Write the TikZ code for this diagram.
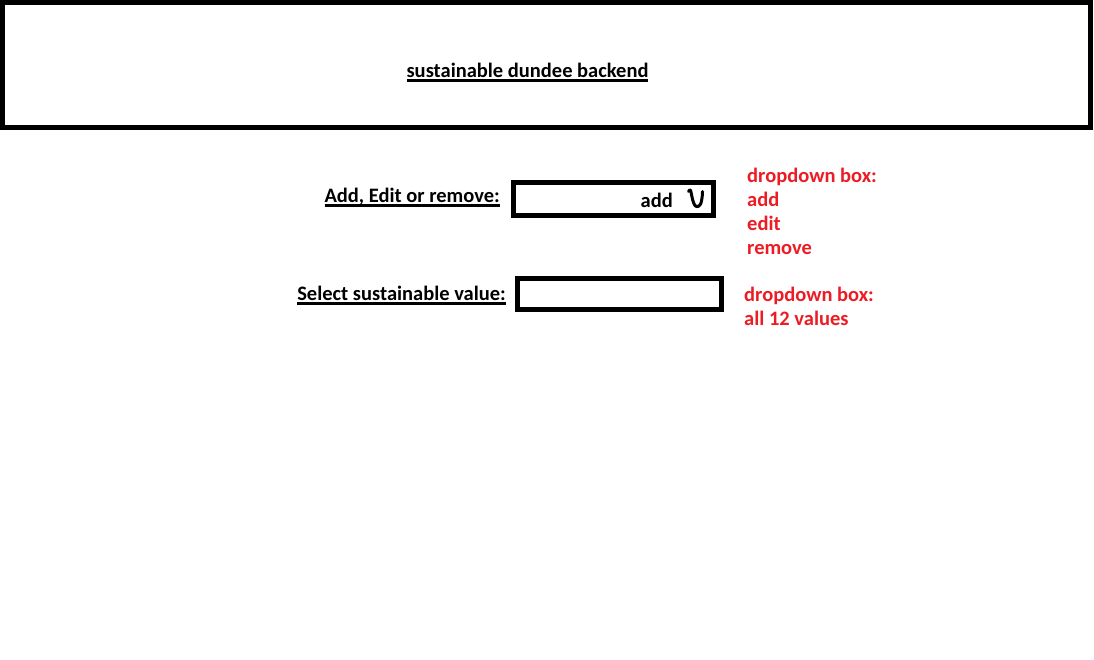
\documentclass[tikz,border=0pt]{standalone}
\usepackage{fontspec}
\setmainfont{Carlito}
\definecolor{mspred}{RGB}{237,28,36}
\newcommand\myul[1]{\setbox0\hbox{#1}\rlap{\rule[-4.5pt]{\wd0}{2.5pt}}\box0}
\begin{document}
\begin{tikzpicture}[x=1pt,y=-1pt,
  framebox/.style={draw=black, line width=5pt, inner sep=0pt},
  lbl/.style={font=\fontsize{20.5}{24}\selectfont\bfseries, inner sep=0pt},
  note/.style={font=\fontsize{20.5}{24}\selectfont\bfseries, text=mspred, inner sep=0pt, anchor=base west}]
\useasboundingbox (0,0) rectangle (1094,659);
\fill[white] (0,0) rectangle (1094,659);
\node[framebox, minimum width=1088pt, minimum height=125pt] (header) at (546.5,65) {};
\node[lbl, anchor=base] (title) at (527.5,77) {\myul{sustainable dundee backend}};
\node[lbl, anchor=base east] (l1) at (500,202) {\myul{Add, Edit or remove:}};
\node[framebox, minimum width=200pt, minimum height=33pt] (box1) at (613.5,199) {};
\node[lbl, anchor=base east] (addtxt) at (673,207) {add};
\node[lbl, anchor=base east] (l2) at (506,300) {\myul{Select sustainable value:}};
\node[framebox, minimum width=204pt, minimum height=31pt] (box2) at (619.5,294) {};
\node[note] (n1a) at (747,182.5) {dropdown box:};
\node[note] (n1b) at (747,206.5) {add};
\node[note] (n1c) at (747,230.5) {edit};
\node[note] (n1d) at (747,254.5) {remove};
\node[note] (n2a) at (744,301) {dropdown box:};
\node[note] (n2b) at (744,325) {all 12 values};
\draw[line width=3pt, line cap=round, line join=round]
  (688.5,191.5) .. controls (689,189.5) and (690.5,189) .. (691,192)
  .. controls (692,197) and (693,203) .. (695,205.5)
  .. controls (697,208) and (700,206) .. (701,203)
  .. controls (702,199) and (702.5,195) .. (702.5,191.5);
\end{tikzpicture}
\end{document}
